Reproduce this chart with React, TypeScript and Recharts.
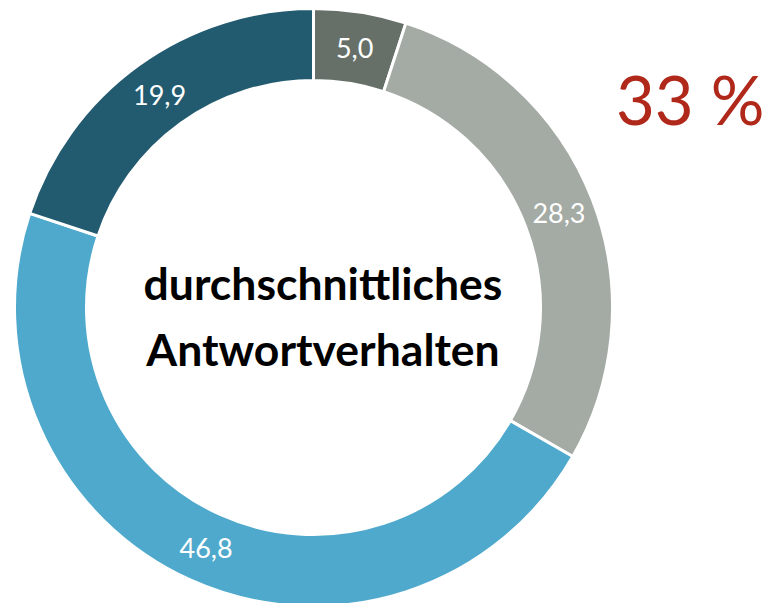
import { PieChart, Pie, Cell } from 'recharts';

const categories = ['Kategorie 1', 'Kategorie 2', 'Kategorie 3', 'Kategorie 4'];
const values = [5.0, 28.3, 46.8, 19.9];
const colors = ['#667068', '#a4aaa4', '#4fa9cc', '#225a6f'];
const centerLines = ['durchschnittliches', 'Antwortverhalten'];
const highlight = '33 %';

const data = categories.map((name, i) => ({ name, value: values[i] }));

const RADIAN = Math.PI / 180;
const FONT = 'Lato, "Open Sans", sans-serif';

// Beschriftung mittig im Ring
function renderLabel(props: any) {
  const { cx, cy, midAngle, innerRadius, outerRadius, value } = props;
  const r = (innerRadius + outerRadius) / 2;
  const x = cx + r * Math.cos(-midAngle * RADIAN);
  const y = cy + r * Math.sin(-midAngle * RADIAN);
  return (
    <text
      x={x}
      y={y}
      fill="#ffffff"
      fontSize={27}
      fontFamily={FONT}
      textAnchor="middle"
      dominantBaseline="central"
    >
      {value.toFixed(1).replace('.', ',')}
    </text>
  );
}

export default function App() {
  return (
    <div style={{ position: 'absolute', left: 0, top: 0, width: 767, height: 603, overflow: 'hidden', background: '#fff' }}>
      <PieChart width={767} height={603} margin={{ top: 0, right: 0, bottom: 0, left: 0 }}>
        <Pie
          data={data}
          dataKey="value"
          cx={313.5}
          cy={307.5}
          innerRadius={227}
          outerRadius={299}
          startAngle={90}
          endAngle={-270}
          stroke="#ffffff"
          strokeWidth={3}
          label={renderLabel}
          labelLine={false}
          isAnimationActive={false}
        >
          {data.map((d, i) => (
            <Cell key={d.name} fill={colors[i]} />
          ))}
        </Pie>
      </PieChart>
      <div
        style={{
          position: 'absolute',
          left: 83,
          top: 250,
          width: 480,
          textAlign: 'center',
          fontFamily: FONT,
          fontWeight: 700,
          fontSize: 44.5,
          lineHeight: '66px',
          color: '#000',
        }}
      >
        {centerLines.map(l => (
          <div key={l}>{l}</div>
        ))}
      </div>
      <div
        style={{
          position: 'absolute',
          left: 616,
          top: 59,
          fontFamily: FONT,
          fontSize: 67,
          lineHeight: '80px',
          color: '#b0281a',
          whiteSpace: 'nowrap',
        }}
      >
        {highlight}
      </div>
    </div>
  );
}
